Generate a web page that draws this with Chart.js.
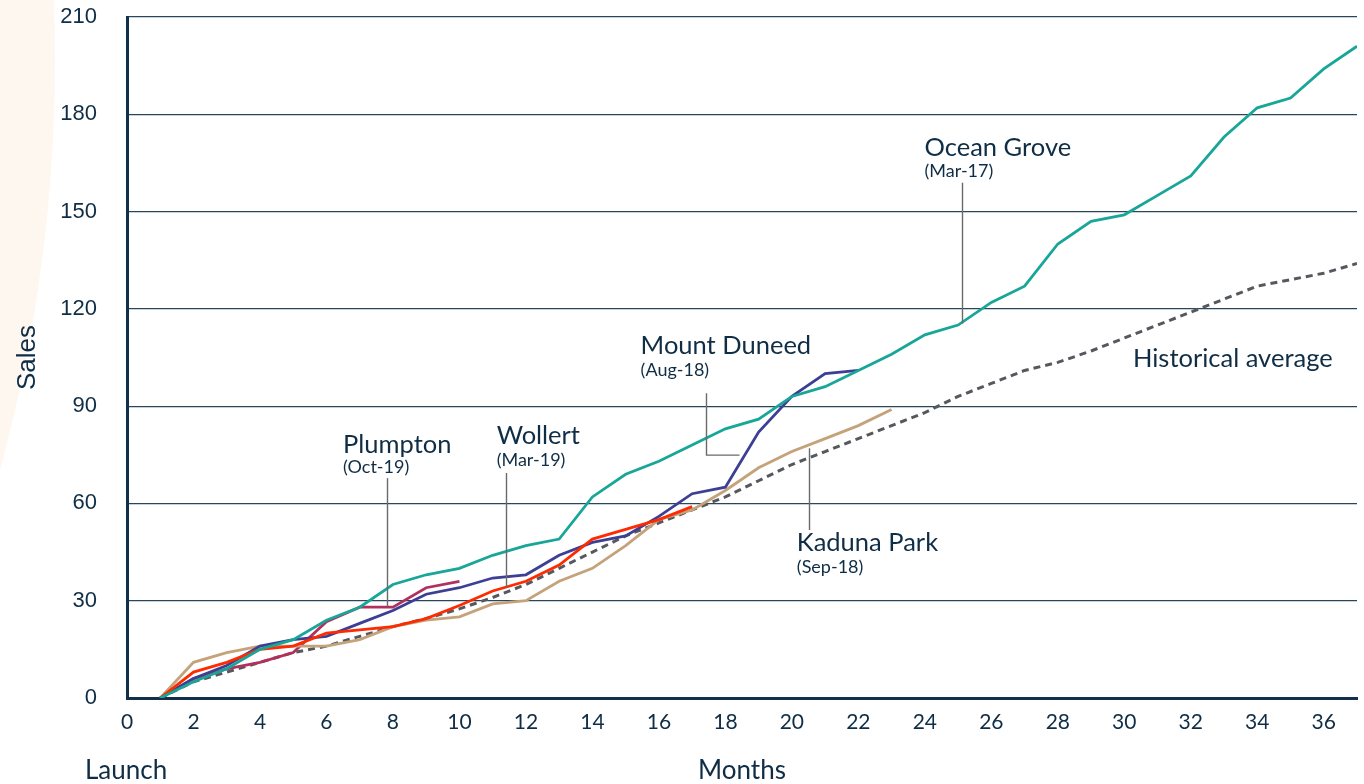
<!DOCTYPE html>
<html lang="en">
<head>
<meta charset="UTF-8">
<title>Cumulative sales since launch</title>
<script src="https://cdn.jsdelivr.net/npm/chart.js@4"></script>
<style>
  html, body { margin: 0; padding: 0; background: #fff; }
  #wrap { width: 1364px; height: 784px; }
</style>
</head>
<body>
<div id="wrap"><canvas id="chart" width="1364" height="784"></canvas></div>
<script>
// months since launch
const months = [1, 2, 3, 4, 5, 6, 7, 8, 9, 10, 11, 12, 13, 14, 15, 16, 17, 18, 19, 20,
  21, 22, 23, 24, 25, 26, 27, 28, 29, 30, 31, 32, 33, 34, 35, 36, 37];

// cumulative sales per estate
const historicalAvg = [0, 5, 8, 11, 14, 16, 19, 22, 24.5, 27.5, 31, 35, 40, 45, 50, 54, 58, 62, 67, 72,
  76, 80, 84, 88, 93, 97, 101, 103.5, 107, 111, 115, 119, 123, 127, 129, 131, 134];
const oceanGrove = [0, 5, 9, 15, 18, 24, 28, 35, 38, 40, 44, 47, 49, 62, 69, 73, 78, 83, 86, 93,
  96, 101, 106, 112, 115, 122, 127, 140, 147, 149, 155, 161, 173, 182, 185, 194, 201];
const mountDuneed = [0, 6, 10, 16, 18, 19, 23, 27, 32, 34, 37, 38, 44, 48, 50, 56, 63, 65, 82, 93, 100, 101];
const kadunaPark = [0, 11, 14, 16, 16, 16, 18, 22, 24, 25, 29, 30, 36, 40, 47, 55, 58, 64, 71, 76, 80, 84, 89];
const wollert = [0, 8, 11, 15, 16, 20, 21, 22, 24.5, 28.5, 33, 36, 41, 49, 52, 55, 59];
const plumpton = [0, 6, 9, 11, 14, 23.5, 28, 28, 34, 36];

const yTicks = [0, 30, 60, 90, 120, 150, 180, 210];

// callout labels: text anchor, sub-label and leader line, in chart units (month, sales)
const callouts = [
  { name: 'Plumpton', date: '(Oct-19)', at: [6.5, 75.7], sub: 69.4, leader: [[7.81, 67.8], [7.81, 28.2]] },
  { name: 'Wollert', date: '(Mar-19)', at: [11.12, 78.3], sub: 71.6, leader: [[11.41, 69.4], [11.41, 33.9]] },
  { name: 'Mount Duneed', date: '(Aug-18)', at: [15.45, 106.1], sub: 99.3, leader: [[17.42, 94.0], [17.42, 74.9], [18.42, 74.9]] },
  { name: 'Kaduna Park', date: '(Sep-18)', at: [20.15, 45.4], sub: 38.6, leader: [[20.53, 77.0], [20.53, 51.8]] },
  { name: 'Ocean Grove', date: '(Mar-17)', at: [23.99, 167.1], sub: 160.6, leader: [[25.13, 158.9], [25.13, 115.5]] },
  { name: 'Historical average', date: null, at: [30.26, 102.2], sub: null, leader: null }
];

const INK = '#0f2d45';
const LABEL_FONT = 'Lato, "Noto Sans", sans-serif';

function toPoints(values) {
  return values.map((v, i) => ({ x: months[i], y: v }));
}

const backdrop = {
  id: 'backdrop',
  beforeDraw(chart) {
    const c = chart.ctx;
    c.save();
    c.fillStyle = '#ffffff';
    c.fillRect(0, 0, chart.width, chart.height);
    c.fillStyle = '#fef7ef';
    c.beginPath();
    c.arc(-1500, 60, 1555, 0, Math.PI * 2);
    c.fill();
    c.restore();
  }
};

const calloutPlugin = {
  id: 'callouts',
  afterDatasetsDraw(chart) {
    const c = chart.ctx;
    const xs = chart.scales.x, ys = chart.scales.y;
    c.save();
    callouts.forEach(o => {
      if (o.leader) {
        c.strokeStyle = '#6a6a6a';
        c.lineWidth = 1.4;
        c.beginPath();
        o.leader.forEach((p, i) => {
          const px = Math.round(xs.getPixelForValue(p[0])) + 0.5;
          const py = ys.getPixelForValue(p[1]);
          if (i === 0) c.moveTo(px, py); else c.lineTo(px, py);
        });
        c.stroke();
      }
      c.fillStyle = INK;
      c.textAlign = 'left';
      c.textBaseline = 'alphabetic';
      c.font = '25.5px ' + LABEL_FONT;
      c.fillText(o.name, xs.getPixelForValue(o.at[0]), ys.getPixelForValue(o.at[1]));
      if (o.date) {
        c.font = '18px ' + LABEL_FONT;
        c.fillText(o.date, xs.getPixelForValue(o.at[0]), ys.getPixelForValue(o.sub));
      }
    });
    // "Launch" marker under the axis start
    c.font = '26px ' + LABEL_FONT;
    c.fillText('Launch', 85, 779);
    c.restore();
  }
};

const lineStyle = (label, values, color, order) => ({
  label: label,
  data: toPoints(values),
  borderColor: color,
  backgroundColor: color,
  borderWidth: 2.8,
  pointRadius: 0,
  tension: 0,
  fill: false,
  order: order
});

const histSet = lineStyle('Historical average', historicalAvg, '#55595e', 6);
histSet.borderDash = [7, 5];
histSet.borderWidth = 3;

new Chart(document.getElementById('chart'), {
  type: 'line',
  data: {
    datasets: [
      lineStyle('Ocean Grove', oceanGrove, '#17a697', 1),
      lineStyle('Mount Duneed', mountDuneed, '#3d3f94', 3),
      lineStyle('Kaduna Park', kadunaPark, '#c4a27a', 4),
      lineStyle('Wollert', wollert, '#ff2a00', 2),
      lineStyle('Plumpton', plumpton, '#b2305e', 5),
      histSet
    ]
  },
  options: {
    responsive: false,
    animation: false,
    layout: { padding: { top: 17, right: 7, left: 0, bottom: 0 } },
    plugins: {
      legend: { display: false },
      tooltip: { enabled: false }
    },
    scales: {
      x: {
        type: 'linear',
        min: 0,
        max: 37,
        grid: { display: false, drawTicks: false },
        border: { color: '#12304a', width: 3 },
        ticks: {
          stepSize: 2,
          includeBounds: false,
          padding: 12,
          color: INK,
          font: { family: LABEL_FONT, size: 21 }
        },
        title: {
          display: true,
          text: 'Months',
          color: INK,
          font: { family: LABEL_FONT, size: 26 },
          padding: { top: 0, bottom: -2 }
        },
        afterFit(scale) {
          scale.height = 86;
          scale.paddingLeft = 0;
          scale.paddingRight = 0;
        }
      },
      y: {
        min: 0,
        max: 210,
        afterBuildTicks(scale) { scale.ticks = yTicks.map(v => ({ value: v })); },
        grid: { color: '#2a465c', lineWidth: 1.2, drawTicks: false },
        border: { color: '#12304a', width: 3 },
        ticks: {
          padding: 30,
          color: INK,
          font: { family: '"Liberation Sans", Arial, sans-serif', size: 22 }
        },
        title: {
          display: true,
          text: 'Sales',
          color: INK,
          font: { family: '"Liberation Sans", Arial, sans-serif', size: 26 },
          padding: { top: 12, bottom: 0 }
        },
        afterFit(scale) {
          scale.width = 127;
          scale.paddingTop = 0;
          scale.paddingBottom = 0;
        }
      }
    }
  },
  plugins: [backdrop, calloutPlugin]
});
</script>
</body>
</html>
